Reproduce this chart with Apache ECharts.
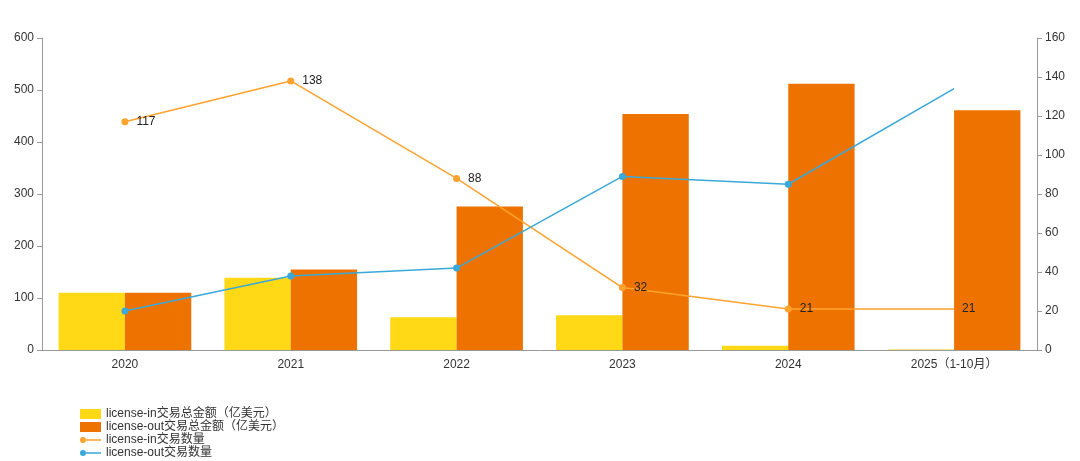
<!DOCTYPE html>
<html><head><meta charset="utf-8">
<script src="https://cdn.jsdelivr.net/npm/echarts@6/dist/echarts.min.js"></script>
<style>html,body{margin:0;padding:0;background:#fff}#c{width:1080px;height:461px}</style>
</head><body><div id="c"></div>
<script>
const categories = ['2020','2021','2022','2023','2024','2025（1-10月）'];
const licenseInAmount = [110, 139, 63, 67, 8, 1];
const licenseOutAmount = [110, 155, 276, 454, 512, 461];
const licenseInCount = [117, 138, 88, 32, 21, 21];
const licenseOutCount = [20, 38, 42, 89, 85, 134];
const names = ['license-in交易总金额（亿美元）','license-out交易总金额（亿美元）','license-in交易数量','license-out交易数量'];

const font = '"Liberation Sans", "Noto Sans CJK SC", Arial, sans-serif';
const lastNoSymbol = arr => arr.map((v,i)=> i===arr.length-1 ? {value:v, symbolSize:0.01} : v);
const lineIcon = 'path://M0,0L0.01,0L0.01,0.01Z M0,10L0.01,10L0.01,9.99Z M0,5A3,3 0 1 1 6,5A3,3 0 1 1 0,5Z M6,4.3L21,4.3L21,5.7L6,5.7Z';

const chart = echarts.init(document.getElementById('c'));
chart.setOption({
  animation:false,
  textStyle:{fontFamily:font},
  grid:{left:42,right:43,top:38,bottom:111,containLabel:false},
  legend:{
    orient:'vertical', left:75, top:403, height:70, itemGap:1, itemWidth:21, itemHeight:10,
    textStyle:{fontSize:12,color:'#333',fontFamily:font},
    data:[
      {name:names[0], icon:'rect'},
      {name:names[1], icon:'rect'},
      {name:names[2], icon:lineIcon, itemStyle:{color:'#FFA22E'}},
      {name:names[3], icon:lineIcon, itemStyle:{color:'#3AA8D8'}}
    ]
  },
  xAxis:{
    type:'category', data:categories,
    axisLine:{lineStyle:{color:'#999'}},
    axisTick:{lineStyle:{color:'#999'}},
    axisLabel:{color:'#333',fontSize:12,margin:9}
  },
  yAxis:[
    {type:'value',min:0,max:600,interval:100,splitLine:{show:false},
     axisLine:{show:true,lineStyle:{color:'#999'}},axisTick:{show:true,lineStyle:{color:'#999'}},
     axisLabel:{color:'#333',fontSize:12}},
    {type:'value',min:0,max:160,interval:20,splitLine:{show:false},
     axisLine:{show:true,lineStyle:{color:'#999'}},axisTick:{show:true,lineStyle:{color:'#999'}},
     axisLabel:{color:'#333',fontSize:12}}
  ],
  series:[
    {name:names[0],type:'bar',data:licenseInAmount,barGap:'0%',barCategoryGap:'20%',
     itemStyle:{color:'#FFD915'}},
    {name:names[1],type:'bar',data:licenseOutAmount,barGap:'0%',barCategoryGap:'20%',
     itemStyle:{color:'#EE7200'}},
    {name:names[2],type:'line',yAxisIndex:1,data:lastNoSymbol(licenseInCount),
     symbol:'circle',symbolSize:7,showSymbol:true,
     lineStyle:{color:'#FFA22E',width:1.5},itemStyle:{color:'#FFA22E'},
     label:{show:true,position:'right',distance:8,color:'#222',fontSize:12}},
    {name:names[3],type:'line',yAxisIndex:1,data:lastNoSymbol(licenseOutCount),
     symbol:'circle',symbolSize:7,
     lineStyle:{color:'#3AA8D8',width:1.5},itemStyle:{color:'#3AA8D8'}}
  ]
});
</script></body></html>
